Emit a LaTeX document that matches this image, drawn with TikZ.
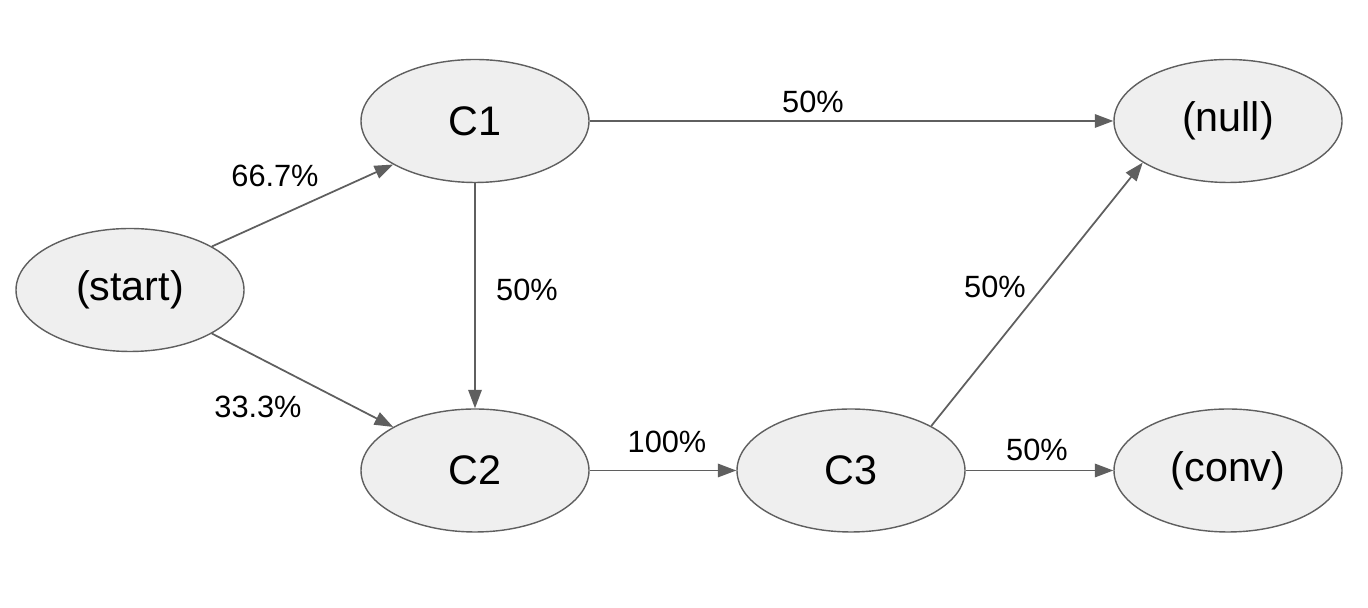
\documentclass[tikz,border=0pt]{standalone}
\usepackage{fontspec}
\setmainfont{Liberation Sans}
\usetikzlibrary{shapes.geometric, arrows.meta}

\definecolor{statefill}{HTML}{EFEFEF}
\definecolor{linegray}{HTML}{5F5F5F}

\begin{document}
\begin{tikzpicture}[
    state/.style={ellipse, draw=linegray, fill=statefill, line width=0.8pt,
        minimum width=4.56cm, minimum height=2.46cm, inner sep=0pt,
        font=\fontsize{23.5}{28}\selectfont},
    prob/.style={font=\fontsize{17.5}{21}\selectfont},
    trans/.style={draw=linegray, line width=1pt,
        -{Triangle[length=0.37cm, width=0.27cm]}}
]
    \useasboundingbox (0,0) rectangle (27.36,12.16);

    % states
    \node[state] (start) at (2.6,6.36) {(start)};
    \node[state] (c1) at (9.5,9.74) {C1};
    \node[state] (c2) at (9.5,2.75) {C2};
    \node[state] (c3) at (17.02,2.75) {C3};
    \node[state] (null) at (24.56,9.74) {(null)};
    \node[state] (conv) at (24.56,2.75) {(conv)};

    % transitions
    \draw[trans] (start.28) -- (c1.208);
    \draw[trans] (start.332) -- (c2.152);
    \draw[trans] (c1.south) -- (c2.north);
    \draw[trans] (c1.east) -- (null.west);
    \draw[trans] (c2.east) -- (c3.west);
    \draw[trans] (c3.29) -- (null.206);
    \draw[trans] (c3.east) -- (conv.west);

    % probabilities
    \node[prob] (p1) at (5.5,8.64) {66.7\%};
    \node[prob] (p2) at (5.16,4.02) {33.3\%};
    \node[prob] (p3) at (10.54,6.36) {50\%};
    \node[prob] (p4) at (16.26,10.12) {50\%};
    \node[prob] (p5) at (13.34,3.32) {100\%};
    \node[prob] (p6) at (19.9,6.42) {50\%};
    \node[prob] (p7) at (20.74,3.16) {50\%};
\end{tikzpicture}
\end{document}
